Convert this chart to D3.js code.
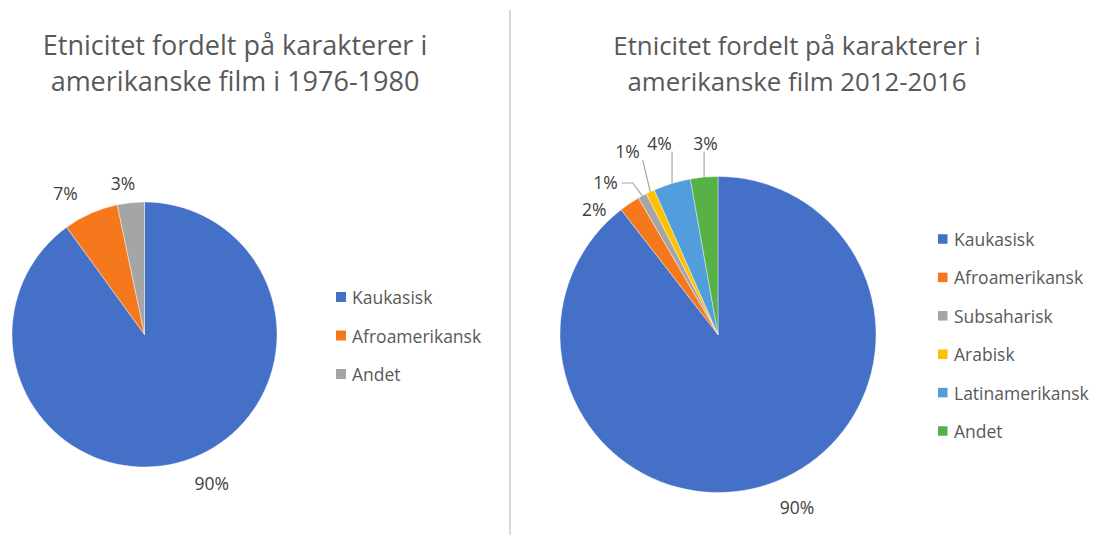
<!DOCTYPE html>
<html>
<head>
<meta charset="utf-8">
<script src="https://cdn.jsdelivr.net/npm/d3@7"></script>
<style>
  html, body { margin: 0; padding: 0; background: #fff; }
  svg { display: block; font-family: "Open Sans", sans-serif; }
</style>
</head>
<body>
<svg id="chart" width="1095" height="535"></svg>
<script>
// ---------- DATA ----------
const titleLeft = ["Etnicitet fordelt på karakterer i", "amerikanske film i 1976-1980"];
const categoriesLeft = ["Kaukasisk", "Afroamerikansk", "Andet"];
const valuesLeft = [90.0, 6.7, 3.3];

const titleRight = ["Etnicitet fordelt på karakterer i", "amerikanske film 2012-2016"];
const categoriesRight = ["Kaukasisk", "Afroamerikansk", "Subsaharisk", "Arabisk", "Latinamerikansk", "Andet"];
const valuesRight = [89.5, 2.1, 0.9, 0.9, 3.8, 2.8];

// ---------- STYLE / LAYOUT ----------
const colorsLeft = ["#4470c7", "#f5781c", "#a5a5a5"];
const colorsRight = ["#4470c7", "#f5781c", "#a5a5a5", "#ffc000", "#529ddc", "#57b147"];

const panels = [
  {
    title: titleLeft, cats: categoriesLeft, vals: valuesLeft, colors: colorsLeft,
    titleX: 235, titleSize: 27, cx: 144.5, cy: 334.5, r: 132.5,
    labelNudge: [-6.4, -5.3, -2.1], labelDist: [163, 162, 153],
    leader: [false, false, false],
    legendX: 336, legendY: 297, legendStep: 38.5, legendSq: 10
  },
  {
    title: titleRight, cats: categoriesRight, vals: valuesRight, colors: colorsRight,
    titleX: 797, titleSize: 25.8, cx: 718, cy: 334.5, r: 158,
    labelNudge: [-5.7, -10.7, -7.8, -0.9, 0, 1.3], labelDist: [190, 176, 189.5, 204.5, 200.7, 192.4],
    leader: [false, false, true, true, true, true],
    legendX: 938, legendY: 239, legendStep: 38.4, legendSq: 9.5
  }
];

const svg = d3.select("#chart");

// divider
svg.append("line")
  .attr("x1", 510).attr("x2", 510).attr("y1", 10).attr("y2", 535)
  .attr("stroke", "#d9d9d9").attr("stroke-width", 2);

const pie = d3.pie().sort(null).value(d => d);

panels.forEach(p => {
  const g = svg.append("g");

  // title
  g.append("text")
    .attr("x", p.titleX).attr("y", 55)
    .attr("text-anchor", "middle")
    .attr("font-size", p.titleSize)
    .attr("fill", "#595959")
    .selectAll("tspan").data(p.title).join("tspan")
      .attr("x", p.titleX)
      .attr("dy", (d, i) => i === 0 ? 0 : 35.5)
      .text(d => d);

  const color = d3.scaleOrdinal().domain(p.cats).range(p.colors);
  const arcs = pie(p.vals);
  const arc = d3.arc().innerRadius(0).outerRadius(p.r);

  const pg = g.append("g").attr("transform", `translate(${p.cx},${p.cy})`);
  pg.selectAll("path").data(arcs).join("path")
    .attr("d", arc)
    .attr("fill", (d, i) => color(p.cats[i]))
    .attr("stroke", "#fff").attr("stroke-width", 0.4);

  // labels
  arcs.forEach((a, i) => {
    const mid = (a.startAngle + a.endAngle) / 2;
    const ang = mid + p.labelNudge[i] * Math.PI / 180;
    const lx = p.labelDist[i] * Math.sin(ang);
    const ly = -p.labelDist[i] * Math.cos(ang);
    const t = pg.append("text")
      .attr("x", lx).attr("y", ly)
      .attr("text-anchor", "middle")
      .attr("dominant-baseline", "central")
      .attr("font-size", 17.5)
      .attr("fill", "#404040")
      .text(Math.round(p.vals[i]) + "%");

    if (p.leader[i]) {
      const bb = t.node().getBBox();
      const bottom = ly + 6;
      const left = bb.x, right = bb.x + bb.width;
      const px = p.r * Math.sin(mid), py = -p.r * Math.cos(mid);
      const hGap = px - right, vGap = py - bottom;
      let pts;
      if (hGap > vGap) {
        pts = [[right + 4, ly + 1], [right + 15, ly + 1], [px, py]];
      } else {
        const ax = Math.min(Math.max(px, left), right + 3);
        pts = [[ax, bottom + 3], [px, py]];
      }
      pg.append("path")
        .attr("d", d3.line()(pts))
        .attr("fill", "none")
        .attr("stroke", "#a6a6a6").attr("stroke-width", 1.2);
    }
  });

  // legend
  const lg = g.append("g");
  p.cats.forEach((c, i) => {
    const y = p.legendY + i * p.legendStep;
    lg.append("rect")
      .attr("x", p.legendX).attr("y", y - p.legendSq / 2)
      .attr("width", p.legendSq).attr("height", p.legendSq)
      .attr("fill", color(c));
    lg.append("text")
      .attr("x", p.legendX + 16).attr("y", y)
      .attr("dominant-baseline", "central")
      .attr("font-size", 17.5)
      .attr("fill", "#595959")
      .text(c);
  });
});
</script>
</body>
</html>
